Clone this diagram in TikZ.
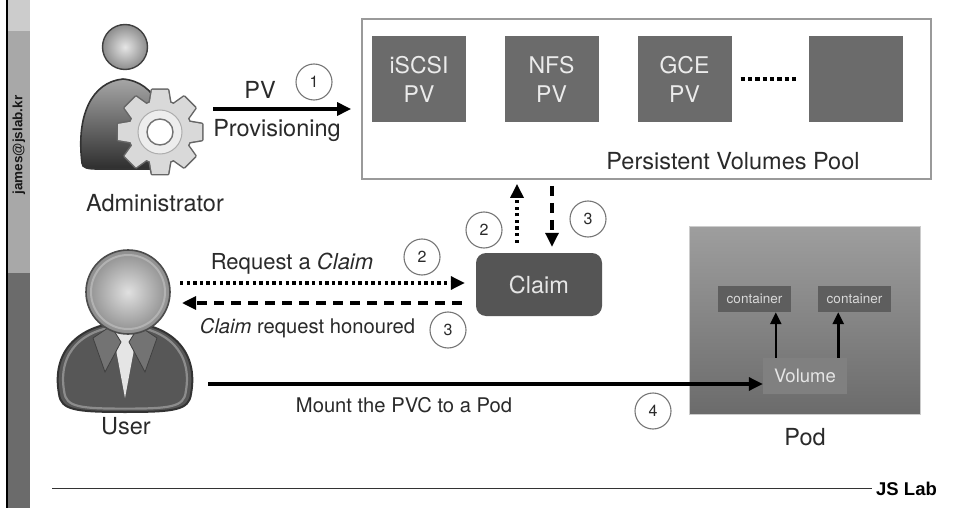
\documentclass[tikz,border=0pt]{standalone}
\usepackage{fontspec}
\setmainfont{TeX Gyre Heros}
\newfontfamily\heavyfont{Liberation Sans}[BoldFont={Liberation Sans Bold}]
\usetikzlibrary{arrows.meta,calc}

\definecolor{txt}{HTML}{2A2A2A}
\definecolor{numc}{HTML}{777777}
\definecolor{boxc}{HTML}{6B6B6B}
\definecolor{claimc}{HTML}{555555}
\definecolor{poolc}{HTML}{9A9A9A}

\tikzset{
  lbl/.style={text=txt, inner sep=0pt, font=\fontsize{22}{26}\selectfont},
  midlbl/.style={lbl, font=\fontsize{20.2}{24}\selectfont},
  biglbl/.style={lbl, font=\fontsize{23.5}{27}\selectfont},
  num/.style={circle, draw=numc, line width=1.1pt, minimum size=36pt, inner sep=0pt,
    text=txt, font=\fontsize{16}{16}\selectfont},
  pvbox/.style={fill=boxc, minimum width=94pt, minimum height=86pt, inner sep=0pt,
    text=white!92!black, align=center, font=\fontsize{23}{29}\selectfont},
  ctbox/.style={fill=black!63, minimum width=73pt, minimum height=26pt, inner sep=0pt,
    text=white!85!black, font=\fontsize{13.5}{14}\selectfont},
  arr/.style={line width=3.2pt, draw=black, -{Triangle[length=14pt,width=13pt]}},
  smallarr/.style={line width=2.6pt, draw=black, -{Triangle[length=12pt,width=11pt]}},
  dotline/.style={dash pattern=on 3.3pt off 3.3pt},
  dashline/.style={dash pattern=on 10pt off 7pt},
}

\begin{document}
\begin{tikzpicture}[x=1pt,y=-1pt]
  % canvas
  \fill[white] (0,0) rectangle (959,508);
  \useasboundingbox (0,0) rectangle (959,508);

  % side bar with the address
  \fill[black!20] (8,0) rectangle (30,31);
  \fill[black!34] (8,31) rectangle (30,273);
  \fill[black!58] (8,273) rectangle (30,508);
  \draw[line width=2.4pt, black] (7,0) -- (7,508);
  \node[rotate=90, text=black!90, font=\heavyfont\bfseries\fontsize{13.5}{14}\selectfont, inner sep=0pt]
    (mail) at (19,145) {james@jslab.kr};

  % footer
  \coordinate (footl) at (52,488);
  \node[anchor=west, inner sep=0pt, text=black, font=\heavyfont\bfseries\fontsize{18.5}{19}\selectfont]
    (jslab) at (876,488.5) {JS Lab};
  \draw[line width=1pt, black!80] (footl) -- ($(footl -| jslab.west)+(-4,0)$);

  % ---------- administrator icon ----------
  \path[draw=black!80, line width=1.6pt, top color=black!35, bottom color=black!82]
    (82,163) .. controls (76,115) and (92,82) .. (123,79)
    .. controls (156,82) and (170,115) .. (166,163)
    .. controls (165,168) and (160,169) .. (150,169) -- (98,169)
    .. controls (88,169) and (82,168) .. (82,163) -- cycle;
  \shade[inner color=black!10, outer color=black!45, draw=black!75, line width=1.4pt]
    (125,47) circle (22.5);
  \begin{scope}[shift={(160,132)}]
    % outline of the gear
    \foreach \a in {0,45,...,315}
      \draw[rotate=\a, line width=3pt, draw=black!60, line join=round]
        (-10.5,-27) -- (-8,-42) -- (8,-42) -- (10.5,-27) -- cycle;
    \draw[line width=3pt, draw=black!60] (0,0) circle (31);
    % body of the gear
    \foreach \a in {0,45,...,315}
      \fill[rotate=\a, black!15] (-10.5,-27) -- (-8,-42) -- (8,-42) -- (10.5,-27) -- cycle;
    \fill[black!15] (0,0) circle (31);
    \fill[black!7, draw=black!32, line width=1pt] (0,0) circle (22);
    \fill[white, draw=black!55, line width=1.4pt] (0,0) circle (13);
  \end{scope}
  \node[biglbl] (admin) at (155,203) {Administrator};

  % ---------- user icon ----------
  \begin{scope}[shift={(125,370)}]
    \path[fill=black!66, draw=black!80, line width=2pt]
      (-66,24) .. controls (-74,-20) and (-45,-46) .. (0,-48)
      .. controls (45,-46) and (74,-20) .. (66,24)
      .. controls (64,40) and (50,42) .. (0,42)
      .. controls (-50,42) and (-64,40) .. (-66,24) -- cycle;
    \begin{scope}[scale=0.92]
      \path[draw=black!45, line width=2.2pt]
        (-66,24) .. controls (-74,-20) and (-45,-46) .. (0,-48)
        .. controls (45,-46) and (74,-20) .. (66,24)
        .. controls (64,40) and (50,42) .. (0,42)
        .. controls (-50,42) and (-64,40) .. (-66,24) -- cycle;
    \end{scope}
    % shirt and collar
    \fill[white!90!black] (-13,-42) -- (0,28) -- (13,-42) -- cycle;
    \fill[black!55, draw=black!75, line width=0.8pt] (-14,-44) -- (-32,-32) -- (-20,2) -- (-4,-28) -- cycle;
    \fill[black!55, draw=black!75, line width=0.8pt] (14,-44) -- (32,-32) -- (20,2) -- (4,-28) -- cycle;
  \end{scope}
  \shade[inner color=black!12, outer color=black!45, draw=black!70, line width=1.6pt]
    (128,292) circle (42);
  \draw[black!30, line width=2pt] (128,292) circle (37);
  \node[biglbl] (user) at (126,426) {User};

  % ---------- persistent volumes pool ----------
  \node[draw=poolc, line width=1.8pt, minimum width=569pt, minimum height=160pt, inner sep=0pt]
    (pool) at (646.5,99) {};
  \node[pvbox] (iscsi) at (419,79) {iSCSI\\PV};
  \node[pvbox] (nfs) at (551.5,79) {NFS\\PV};
  \node[pvbox] (gce) at (684.5,79) {GCE\\PV};
  \node[pvbox] (more) at (856,79) {};
  \draw[line width=4pt, dash pattern=on 4.4pt off 2.9pt] ($(gce.east)+(9,0)$) -- ($(more.west)+(-10,0)$);
  \node[biglbl] (poollbl) at (733,161) {Persistent Volumes Pool};

  % ---------- claim ----------
  \node[fill=claimc, rounded corners=10pt, minimum width=126pt, minimum height=63pt, inner sep=0pt,
    text=white!90!black, font=\fontsize{23.5}{27}\selectfont] (claim) at (539,284.5) {Claim};

  % ---------- pod ----------
  \node[minimum width=231pt, minimum height=188pt, inner sep=0pt, top color=black!38,
    bottom color=black!58, draw=black!20, line width=0.4pt] (pod) at (804.5,320) {};
  \node[ctbox] (c1) at (754.5,299) {container};
  \node[ctbox] (c2) at (854.5,299) {container};
  \node[fill=black!50, minimum width=84pt, minimum height=36pt, inner sep=0pt,
    text=white!90!black, font=\fontsize{18.5}{20}\selectfont] (vol) at (805,376) {Volume};
  \node[biglbl] (podlbl) at (805,437) {Pod};

  % ---------- connectors ----------
  % 1: provisioning
  \coordinate (pvs) at (213,109);
  \draw[arr, shorten >=10pt] (pvs) -- (pvs -| pool.west);
  \node[biglbl] (pvlbl) at (260,90) {PV};
  \node[biglbl] (provlbl) at (277,130) {Provisioning};
  \node[num] (n1) at (314,82) {1};

  % 2: request a claim
  \coordinate (rqs) at (180,283);
  \draw[arr, dotline, shorten >=11pt] (rqs) -- (rqs -| claim.west);
  \node[lbl] (rqlbl) at (292,264) {Request a \textit{Claim}};
  \node[num] (n2a) at (422,257) {2};

  % 3: claim honoured
  \coordinate (hns) at (182,303);
  \draw[arr, dashline, shorten <=14pt] (hns -| claim.west) -- (hns);
  \node[midlbl] (hnlbl) at (307.5,328) {\textit{Claim} request honoured};
  \node[num] (n3a) at (448,330) {3};

  % 2/3: claim against the pool
  \coordinate (up) at ($(claim.north)+(-22,-10)$);
  \draw[arr, dotline, shorten >=4pt] (up) -- (up |- pool.south);
  \node[num] (n2b) at (484,230) {2};
  \coordinate (dn) at ($(claim.north)+(13,-6)$);
  \draw[arr, dashline, shorten <=6pt] (dn |- pool.south) -- (dn);
  \node[num] (n3b) at (588,219) {3};

  % 4: mount into the pod
  \coordinate (mts) at (208,384);
  \draw[arr] (mts) -- (mts -| vol.west);
  \node[midlbl] (mtlbl) at (404,405) {Mount the PVC to a Pod};
  \node[num] (n4) at (653,411) {4};

  % volume feeds the containers
  \coordinate (v1) at ($(vol.north west)+(13,0)$);
  \coordinate (v2) at ($(vol.north east)+(-9,0)$);
  \draw[smallarr] (v1) -- (v1 |- c1.south);
  \draw[smallarr] (v2) -- (v2 |- c2.south);
\end{tikzpicture}
\end{document}
